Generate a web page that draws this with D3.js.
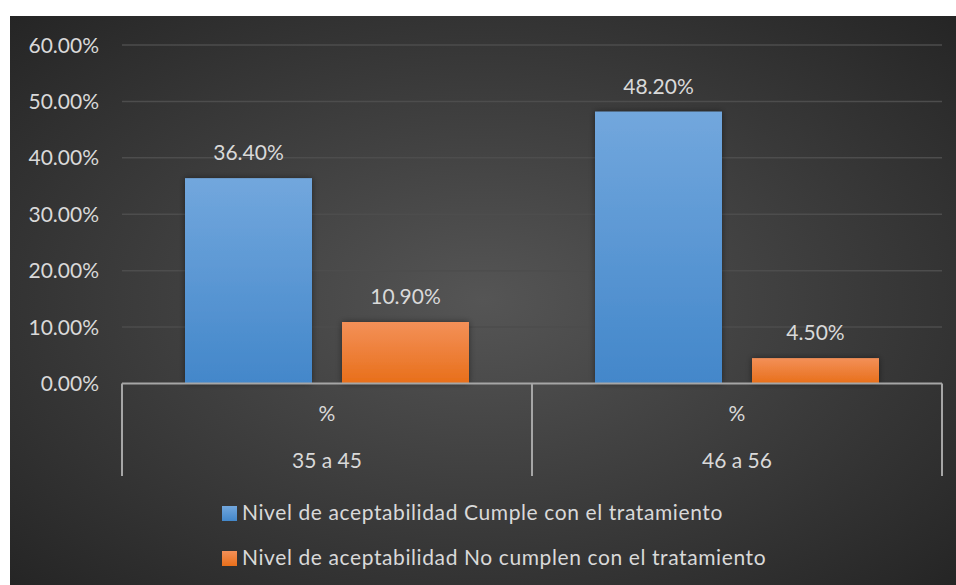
<!DOCTYPE html>
<html>
<head>
<meta charset="utf-8">
<script src="https://cdn.jsdelivr.net/npm/d3@7"></script>
<style>
    body { margin: 0; background: #fff; }
    svg { display: block; }
</style>
</head>
<body>
<div id="chart"></div>
<script>
const categories = ['35 a 45', '46 a 56']
const subLabel = '%'
const seriesNames = [
    'Nivel de aceptabilidad Cumple con el tratamiento',
    'Nivel de aceptabilidad No cumplen con el tratamiento'
]
const cumple = [36.4, 48.2]
const noCumple = [10.9, 4.5]
const yTicks = [0, 10, 20, 30, 40, 50, 60]

const width = 956, height = 585
const font = 'Lato, Calibri, sans-serif'
const textColor = '#d9d9d9'

let svg = d3.select('#chart').append('svg')
    .attr('width', width)
    .attr('height', height)

let defs = svg.append('defs')

let bg = defs.append('radialGradient')
    .attr('id', 'bg')
    .attr('cx', '0.5').attr('cy', '0.5').attr('r', '0.75')
bg.append('stop').attr('offset', '0%').attr('stop-color', '#555555')
bg.append('stop').attr('offset', '100%').attr('stop-color', '#222222')

const seriesColors = [['#72a7dd', '#4387ca'], ['#f39058', '#e86f1a']]
seriesColors.forEach((c, i) => {
    let g = defs.append('linearGradient')
        .attr('id', 'bar' + i)
        .attr('x1', 0).attr('y1', 0).attr('x2', 0).attr('y2', 1)
    g.append('stop').attr('offset', '0%').attr('stop-color', c[0])
    g.append('stop').attr('offset', '100%').attr('stop-color', c[1])
})

let shadow = defs.append('filter').attr('id', 'shadow')
    .attr('x', '-20%').attr('y', '-20%').attr('width', '140%').attr('height', '140%')
shadow.append('feDropShadow')
    .attr('dx', 0).attr('dy', 0).attr('stdDeviation', 3)
    .attr('flood-color', '#000').attr('flood-opacity', 0.45)

// panel
svg.append('rect')
    .attr('x', 10).attr('y', 16)
    .attr('width', width - 10).attr('height', height - 16)
    .attr('fill', 'url(#bg)')

const plot = { left: 122, right: 942, top: 45, bottom: 383.5 }

let x0 = d3.scaleBand()
    .domain(categories)
    .range([plot.left, plot.right])

// group of two bars (127 + 30 gap + 127) centred in each band
const groupW = 284
let x1 = d3.scaleBand()
    .domain([0, 1])
    .range([(x0.bandwidth() - groupW) / 2, (x0.bandwidth() + groupW) / 2])
    .paddingInner(30 / 157)

let y = d3.scaleLinear()
    .domain([0, 60])
    .range([plot.bottom, plot.top])

// gridlines
svg.append('g')
    .selectAll('line')
    .data(yTicks.filter(d => d > 0))
    .enter().append('line')
    .attr('x1', plot.left).attr('x2', plot.right)
    .attr('y1', d => y(d)).attr('y2', d => y(d))
    .attr('stroke', '#4d4d4d')
    .attr('stroke-width', 1.5)

// y tick labels
svg.append('g')
    .selectAll('text')
    .data(yTicks)
    .enter().append('text')
    .attr('x', 99)
    .attr('y', d => y(d))
    .attr('dy', '0.36em')
    .attr('text-anchor', 'end')
    .style('font-family', font)
    .style('font-size', '21px')
    .attr('fill', textColor)
    .text(d => d.toFixed(2) + '%')

// bars
const series = [cumple, noCumple]
let groups = svg.append('g')
    .selectAll('g')
    .data(categories)
    .enter().append('g')
    .attr('transform', d => 'translate(' + x0(d) + ',0)')

groups.selectAll('rect')
    .data((d, i) => series.map((s, k) => ({ k: k, value: s[i] })))
    .enter().append('rect')
    .attr('x', d => x1(d.k))
    .attr('width', x1.bandwidth())
    .attr('y', d => y(d.value))
    .attr('height', d => y(0) - y(d.value))
    .attr('fill', d => 'url(#bar' + d.k + ')')
    .attr('filter', 'url(#shadow)')

groups.selectAll('text')
    .data((d, i) => series.map((s, k) => ({ k: k, value: s[i] })))
    .enter().append('text')
    .attr('x', d => x1(d.k) + x1.bandwidth() / 2)
    .attr('y', d => y(d.value) - 18)
    .attr('text-anchor', 'middle')
    .style('font-family', font)
    .style('font-size', '21px')
    .attr('fill', textColor)
    .text(d => d.value.toFixed(2) + '%')

// category axis
let axis = svg.append('g')
axis.append('line')
    .attr('x1', plot.left).attr('x2', plot.right)
    .attr('y1', plot.bottom).attr('y2', plot.bottom)
    .attr('stroke', '#a6a6a6').attr('stroke-width', 2)

let seps = [plot.left].concat(categories.map(c => x0(c) + x0.bandwidth()))
axis.selectAll('.sep')
    .data(seps)
    .enter().append('line')
    .attr('class', 'sep')
    .attr('x1', d => d).attr('x2', d => d)
    .attr('y1', plot.bottom).attr('y2', 476)
    .attr('stroke', '#a6a6a6').attr('stroke-width', 2)

axis.selectAll('.sub')
    .data(categories)
    .enter().append('text')
    .attr('class', 'sub')
    .attr('x', d => x0(d) + x0.bandwidth() / 2)
    .attr('y', 421)
    .attr('text-anchor', 'middle')
    .style('font-family', font)
    .style('font-size', '21px')
    .attr('fill', textColor)
    .text(subLabel)

axis.selectAll('.cat')
    .data(categories)
    .enter().append('text')
    .attr('class', 'cat')
    .attr('x', d => x0(d) + x0.bandwidth() / 2)
    .attr('y', 468)
    .attr('text-anchor', 'middle')
    .style('font-family', font)
    .style('font-size', '21px')
    .attr('fill', textColor)
    .text(d => d)

// legend
let legend = svg.append('g')
    .selectAll('g')
    .data(seriesNames)
    .enter().append('g')
    .attr('transform', (d, i) => 'translate(222,' + (506 + i * 45) + ')')

legend.append('rect')
    .attr('width', 15).attr('height', 15)
    .attr('fill', (d, i) => 'url(#bar' + i + ')')

legend.append('text')
    .attr('x', 20)
    .attr('y', 14)
    .style('font-family', font)
    .style('font-size', '21px')
    .style('letter-spacing', '0.6px')
    .attr('fill', textColor)
    .text(d => d)
</script>
</body>
</html>
